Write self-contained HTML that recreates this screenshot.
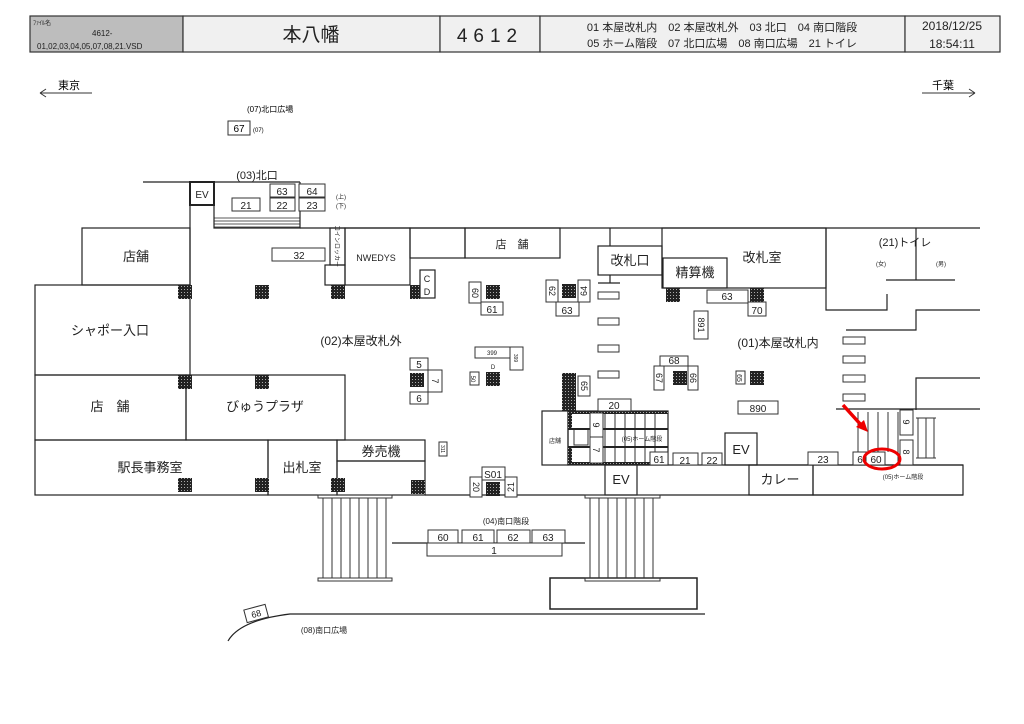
<!DOCTYPE html>
<html><head><meta charset="utf-8"><style>
body{margin:0;background:#fff}
svg{display:block;font-family:"Liberation Sans","Noto Sans CJK JP",sans-serif}
</style></head><body>
<svg width="1024" height="724" viewBox="0 0 1024 724" xmlns="http://www.w3.org/2000/svg">
<defs>
<pattern id="h" width="3" height="3" patternUnits="userSpaceOnUse"><rect width="3" height="3" fill="#222"/><rect x="1" y="1" width="1" height="1" fill="#aaa"/></pattern>
</defs>
<!-- header -->
<g stroke="#333" stroke-width="1.2">
<rect x="30" y="16" width="153" height="36" fill="#bdbdbd"/>
<rect x="183" y="16" width="257" height="36" fill="#f0f0f0"/>
<rect x="440" y="16" width="100" height="36" fill="#f0f0f0"/>
<rect x="540" y="16" width="365" height="36" fill="#f0f0f0"/>
<rect x="905" y="16" width="95" height="36" fill="#f0f0f0"/>
</g>
<g fill="#222">
<text x="33" y="25" font-size="6">ﾌｧｲﾙ名</text>
<text x="92" y="36" font-size="8">4612-</text>
<text x="37" y="49" font-size="8">01,02,03,04,05,07,08,21.VSD</text>
<text x="311" y="41" font-size="19" text-anchor="middle">本八幡</text>
<text x="490" y="42" font-size="19" text-anchor="middle" letter-spacing="6">4612</text>
<text x="722" y="31" font-size="11" text-anchor="middle">01 本屋改札内　02 本屋改札外　03 北口　04 南口階段</text>
<text x="722" y="47" font-size="11" text-anchor="middle">05 ホーム階段　07 北口広場　08 南口広場　21 トイレ</text>
<text x="952" y="30" font-size="12" text-anchor="middle">2018/12/25</text>
<text x="952" y="48" font-size="12" text-anchor="middle">18:54:11</text>
</g>
<!-- directions -->
<g stroke="#333" fill="none" stroke-width="1">
<path d="M40 93H92M40 93l6-4M40 93l6 4"/>
<path d="M922 93H975M975 93l-6-4M975 93l-6 4"/>
</g>
<text x="58" y="89" font-size="11">東京</text>
<text x="932" y="89" font-size="11">千葉</text>
<text x="247" y="112" font-size="8">(07)北口広場</text>
<rect x="228" y="121" width="22" height="14" fill="#fff" stroke="#333"/>
<text x="239" y="132" font-size="10" text-anchor="middle">67</text>
<text x="253" y="132" font-size="6">(07)</text>

<g stroke="#222" stroke-width="1.2" fill="none">
<!-- north exit -->
<path d="M143 182H300"/>
<rect x="190" y="182" width="24" height="23" stroke-width="2"/>
<path d="M190 205V285"/>
<path d="M214 182V228H300V182"/>
<path d="M214 218H300M214 221H300M214 224H300M214 227H300" stroke-width="0.8"/>
<path d="M300 228H980"/>
<!-- left rooms -->
<rect x="82" y="228" width="108" height="57"/>
<rect x="35" y="285" width="155" height="90"/>
<rect x="35" y="375" width="151" height="65"/>
<rect x="186" y="375" width="159" height="65"/>
<rect x="35" y="440" width="233" height="55"/>
<rect x="268" y="440" width="69" height="55"/>
<rect x="337" y="440" width="88" height="21"/>
<rect x="337" y="461" width="88" height="34"/>
<rect x="330" y="228" width="15" height="37"/>
<rect x="325" y="265" width="20" height="20"/>
<rect x="345" y="228" width="65" height="57"/>
<rect x="410" y="228" width="55" height="30"/>
<rect x="465" y="228" width="95" height="30"/>
<rect x="420" y="270" width="15" height="28"/>
<!-- gate -->
<path d="M610 228V246M610 275V283M598 283H620"/>
<rect x="598" y="246" width="64" height="29"/>
<rect x="662" y="228" width="164" height="60"/>
<rect x="663" y="258" width="64" height="30"/>
<!-- toilet -->
<path d="M826 228V310H887V294M886 280H955M916 228V280M846 330H916V310H980M916 410V378H980M836 409H980"/>
<!-- platform stairs left -->
<rect x="542" y="411" width="26" height="54"/>
<rect x="568" y="411" width="100" height="54"/>
<!-- bottom -->
<path d="M425 495H963M637 465H963"/>
<rect x="605" y="465" width="32" height="30"/>
<rect x="725" y="433" width="32" height="32"/>
<rect x="749" y="465" width="64" height="30"/>
<rect x="813" y="465" width="150" height="30"/>
<rect x="550" y="578" width="147" height="31" stroke-width="1.5"/>
<path d="M228 641Q240 620 290 614H705"/>
<path d="M392 543H585"/>
</g>
<!-- south stairs -->
<g stroke="#333" fill="none" stroke-width="1">
<rect x="318" y="495" width="74" height="3"/>
<rect x="318" y="578" width="74" height="3"/>
<path d="M323 498V578M332 498V578M341 498V578M350 498V578M359 498V578M368 498V578M377 498V578M386 498V578"/>
<rect x="585" y="495" width="75" height="3"/>
<rect x="585" y="578" width="75" height="3"/>
<path d="M590 498V578M599 498V578M608 498V578M617 498V578M626 498V578M635 498V578M644 498V578M653 498V578"/>
<!-- right platform stairs -->
<path d="M858 412V465M868 412V465M878 412V452M888 412V452M898 412V465M918 418V458M926 418V458M934 418V458M916 418H936M916 458H936"/>
<!-- stair lines left platform -->
<path d="M605 413V463M615 413V463M625 413V463M635 413V463M645 413V463M655 413V463"/>
<rect x="574" y="429" width="14" height="16"/>
</g>
<g fill="url(#h)">
<rect x="568" y="411" width="100" height="3"/><rect x="568" y="462" width="85" height="3"/>
<rect x="568" y="428" width="100" height="2"/><rect x="568" y="446" width="100" height="2"/>
<rect x="568" y="411" width="4" height="19"/><rect x="568" y="446" width="4" height="19"/>
</g>
<!-- pillars -->
<g fill="url(#h)">
<rect x="178" y="285" width="14" height="14"/><rect x="255" y="285" width="14" height="14"/>
<rect x="331" y="285" width="14" height="14"/><rect x="410" y="285" width="10" height="14"/>
<rect x="486" y="285" width="14" height="14"/><rect x="562" y="284" width="14" height="14"/>
<rect x="666" y="288" width="14" height="14"/><rect x="750" y="288" width="14" height="14"/>
<rect x="178" y="375" width="14" height="14"/><rect x="255" y="375" width="14" height="14"/>
<rect x="410" y="373" width="14" height="14"/><rect x="486" y="372" width="14" height="14"/>
<rect x="562" y="373" width="14" height="38"/><rect x="673" y="371" width="14" height="14"/>
<rect x="750" y="371" width="14" height="14"/>
<rect x="178" y="478" width="14" height="14"/><rect x="255" y="478" width="14" height="14"/>
<rect x="331" y="478" width="14" height="14"/><rect x="411" y="480" width="14" height="14"/>
<rect x="486" y="482" width="14" height="14"/>
</g>
<!-- small number boxes -->
<g stroke="#333" fill="#fff" stroke-width="1">
<rect x="232" y="198" width="28" height="13"/><rect x="270" y="184" width="25" height="13"/>
<rect x="299" y="184" width="26" height="13"/><rect x="270" y="198" width="25" height="13"/>
<rect x="299" y="198" width="26" height="13"/>
<rect x="272" y="248" width="53" height="13"/>
<rect x="469" y="282" width="12" height="21"/><rect x="481" y="302" width="22" height="13"/>
<rect x="546" y="280" width="12" height="22"/><rect x="578" y="280" width="12" height="22"/>
<rect x="556" y="302" width="23" height="14"/>
<rect x="475" y="347" width="35" height="11"/><rect x="510" y="347" width="13" height="23"/>
<rect x="470" y="372" width="9" height="13"/>
<rect x="410" y="358" width="18" height="12"/><rect x="428" y="370" width="14" height="22"/>
<rect x="410" y="392" width="18" height="12"/>
<rect x="439" y="442" width="8" height="14"/>
<rect x="482" y="467" width="23" height="13"/><rect x="470" y="477" width="12" height="20"/>
<rect x="505" y="477" width="12" height="20"/>
<rect x="598" y="292" width="21" height="7"/><rect x="598" y="318" width="21" height="7"/>
<rect x="598" y="345" width="21" height="7"/><rect x="598" y="371" width="21" height="7"/>
<rect x="843" y="337" width="22" height="7"/><rect x="843" y="356" width="22" height="7"/>
<rect x="843" y="375" width="22" height="7"/><rect x="843" y="394" width="22" height="7"/>
<rect x="707" y="290" width="41" height="13"/><rect x="748" y="302" width="18" height="14"/>
<rect x="694" y="311" width="14" height="28"/>
<rect x="660" y="356" width="28" height="10"/><rect x="654" y="366" width="10" height="24"/>
<rect x="688" y="366" width="10" height="24"/><rect x="736" y="371" width="9" height="13"/>
<rect x="578" y="376" width="12" height="20"/><rect x="598" y="399" width="33" height="12"/>
<rect x="738" y="401" width="40" height="13"/>
<rect x="590" y="413" width="13" height="24"/><rect x="590" y="437" width="13" height="26"/>
<rect x="650" y="452" width="18" height="13"/>
<rect x="673" y="453" width="25" height="12"/><rect x="702" y="453" width="20" height="12"/>
<rect x="808" y="452" width="30" height="13"/><rect x="853" y="452" width="13" height="13"/>
<rect x="866" y="452" width="19" height="13"/>
<rect x="900" y="410" width="13" height="25"/><rect x="900" y="440" width="13" height="25"/>
<rect x="428" y="530" width="30" height="13"/><rect x="462" y="530" width="32" height="13"/>
<rect x="497" y="530" width="33" height="13"/><rect x="532" y="530" width="33" height="13"/>
<rect x="427" y="543" width="135" height="13"/>
<rect x="245" y="607" width="22" height="13" transform="rotate(-15 256 613)"/>
</g>
<!-- red marks -->
<ellipse cx="882" cy="459" rx="18" ry="10" fill="none" stroke="#e00" stroke-width="3"/>
<path d="M843 405L862 426" stroke="#e00" stroke-width="3.5"/>
<path d="M868 432L856 427L864 420Z" fill="#e00"/>
<!-- labels -->
<g fill="#222" text-anchor="middle">
<text x="202" y="198" font-size="10">EV</text>
<text x="257" y="179" font-size="11">(03)北口</text>
<text x="336" y="199" font-size="6" text-anchor="start">(上)</text>
<text x="336" y="208" font-size="6" text-anchor="start">(下)</text>
<g font-size="10">
<text x="246" y="209">21</text><text x="282" y="195">63</text><text x="312" y="195">64</text>
<text x="282" y="209">22</text><text x="312" y="209">23</text><text x="299" y="259">32</text>
<text x="492" y="313">61</text><text x="567" y="314">63</text><text x="614" y="409">20</text>
<text x="727" y="300">63</text><text x="757" y="314">70</text><text x="674" y="364">68</text>
<text x="758" y="412">890</text><text x="659" y="463">61</text><text x="685" y="464">21</text>
<text x="712" y="464">22</text><text x="823" y="463">23</text><text x="860" y="463">6</text>
<text x="876" y="463">60</text><text x="419" y="368">5</text><text x="419" y="402">6</text>
<text x="493" y="478">S01</text>
<text x="443" y="541">60</text><text x="478" y="541">61</text><text x="513" y="541">62</text>
<text x="548" y="541">63</text><text x="494" y="554">1</text>
</g>
<text x="427" y="282" font-size="9">C</text><text x="427" y="295" font-size="9">D</text>
<text x="492" y="355" font-size="6">399</text><text x="493" y="369" font-size="6">D</text>
<text x="376" y="261" font-size="9">NWEDYS</text>
<text x="136" y="261" font-size="13">店舗</text>
<text x="110" y="335" font-size="13">シャポー入口</text>
<text x="110" y="411" font-size="13">店　舗</text>
<text x="265" y="411" font-size="13">びゅうプラザ</text>
<text x="150" y="472" font-size="13">駅長事務室</text>
<text x="302" y="472" font-size="13">出札室</text>
<text x="381" y="456" font-size="13">券売機</text>
<text x="512" y="248" font-size="11">店　舗</text>
<text x="630" y="265" font-size="13">改札口</text>
<text x="695" y="277" font-size="13">精算機</text>
<text x="762" y="262" font-size="13">改札室</text>
<text x="905" y="246" font-size="11">(21)トイレ</text>
<text x="881" y="266" font-size="6">(女)</text><text x="941" y="266" font-size="6">(男)</text>
<text x="361" y="345" font-size="12">(02)本屋改札外</text>
<text x="778" y="347" font-size="12">(01)本屋改札内</text>
<text x="555" y="443" font-size="6">店舗</text>
<text x="642" y="441" font-size="6">(05)ホーム階段</text>
<text x="621" y="484" font-size="13">EV</text>
<text x="741" y="454" font-size="13">EV</text>
<text x="780" y="484" font-size="13">カレー</text>
<text x="903" y="479" font-size="6">(05)ホーム階段</text>
<text x="506" y="524" font-size="8">(04)南口階段</text>
<text x="324" y="633" font-size="8">(08)南口広場</text>
<text x="256" y="617" font-size="9" transform="rotate(-15 256 613)">68</text>
</g>
<!-- rotated numbers -->
<g fill="#222" font-size="9" text-anchor="middle">
<text transform="translate(475 293) rotate(90)" dy="3">60</text>
<text transform="translate(552 291) rotate(90)" dy="3">62</text>
<text transform="translate(584 291) rotate(-90)" dy="3">64</text>
<text transform="translate(701 325) rotate(90)" dy="3">891</text>
<text transform="translate(659 378) rotate(90)" dy="3">67</text>
<text transform="translate(693 378) rotate(90)" dy="3">66</text>
<text transform="translate(740 378) rotate(90)" dy="3" font-size="7">65</text>
<text transform="translate(584 386) rotate(90)" dy="3">65</text>
<text transform="translate(476 487) rotate(90)" dy="3">20</text>
<text transform="translate(511 487) rotate(-90)" dy="3">21</text>
<text transform="translate(435 381) rotate(90)" dy="3">7</text>
<text transform="translate(474 379) rotate(90)" dy="3" font-size="6">50</text>
<text transform="translate(516 358) rotate(90)" dy="2" font-size="5">399</text>
<text transform="translate(443 449) rotate(90)" dy="2" font-size="5">311</text>
<text transform="translate(596 425) rotate(90)" dy="3">9</text>
<text transform="translate(596 450) rotate(90)" dy="3">7</text>
<text transform="translate(906 422) rotate(90)" dy="3">9</text>
<text transform="translate(906 452) rotate(90)" dy="3">8</text>
<text transform="translate(337 246) rotate(90)" dy="2" font-size="6">コインロッカー</text>
</g>
</svg>
</body></html>
